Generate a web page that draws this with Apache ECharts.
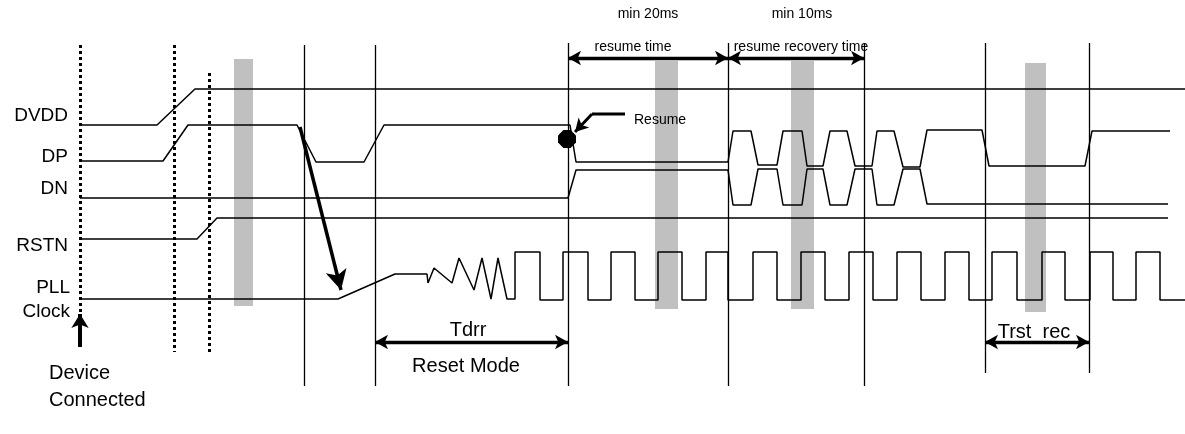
<!DOCTYPE html>
<html><head><meta charset="utf-8">
<script src="https://cdn.jsdelivr.net/npm/echarts@6/dist/echarts.min.js"></script>
<style>html,body{margin:0;padding:0;background:#fff}#c{width:1185px;height:434px}</style>
</head><body><div id="c"></div>
<script>
// ---- DATA (time on x, level on y, diagram units) ----
const dvdd = [[80,125],[157,125],[195,89],[1185,89]];
const dp = [[80,161],[163,161],[188,125],[297,125],[316,162],[364,162],[384,125],[570,125],[576,162],[728,162],
  [733,131],[751,131],[758,165],[777,165],[783,131],[802,131],[807,166],[823,166],[830,131],[847,131],[855,166],[872,166],
  [877,131],[894,131],[903,167],[920,167],[927,130],[982,130],[989,166],[1085,166],[1092,131],[1170,131]];
const dn = [[80,198],[568,198],[576,170],[728,170],
  [733,205],[751,205],[758,169],[777,169],[783,205],[802,205],[807,169],[823,169],[830,205],[847,205],[855,169],[872,169],
  [877,205],[894,205],[903,169],[920,169],[927,204],[1168,204]];
const rstn = [[80,239],[197,239],[217,218],[1168,218]];
const pllStart = [[80,299],[338,299],[395,274],[427,274],[428,283],[434,268],[452,283],[459,258],[474,290],[482,258],[491,299],[498,258],[507,299],[515,299]];
const clockRise = [515,563,611,658,706,753,801,849,897,945,992,1042,1090,1136];
const clockFall = [540,588,635,682,728,777,825,873,921,969,1017,1065,1113,1160];
const clockLevels = {high:252, low:300, end:1185};
const solidMarkers = [[304,45,386],[375,45,386],[568,43,386],[728,43,386],[864,43,386],[985,43,373],[1089,43,373]];
const dottedMarkers = [[80,45,313],[174,45,352],[209,73,352]];
const greyBands = [[655,61,678,309],[791,61,814,309],[1025,63,1046,312]];
const greyBandsTop = [[234,59,253,306]];
const doubleArrows = [[[568,58],[728,58]],[[728,58],[864,58]],[[375,342],[568,342]],[[985,342],[1089,342]]];
const resumeDot = [567,139];
const resumeLeader = [[625,114],[592,114]];
const resumeTip = [[592,114],[575,132]];
const bigArrow = [[300,127],[341,290]];
const deviceArrow = [[80,347],[80,314]];
const signalLabels = [['DVDD',68,116],['DP',68,157],['DN',68,189],['RSTN',68,246],['PLL',70,288],['Clock',70,312]];
const bigTexts = [['Tdrr',468,330],['Reset Mode',466,366],['Trst_rec',1034,332.5]];
const leftTexts = [['Device',49,373],['Connected',49,400]];
const smallTexts = [['min 20ms',648,14],['min 10ms',802,14],['resume time',633,47],['resume recovery time',801,47]];

// ---- build ----
const clock = pllStart.slice();
for (let i = 0; i < clockRise.length; i++) {
  clock.push([clockRise[i], clockLevels.low],[clockRise[i], clockLevels.high],[clockFall[i], clockLevels.high],[clockFall[i], clockLevels.low]);
}
clock.push([clockLevels.end, clockLevels.low]);

const FONT = 'Liberation Sans, Arial, sans-serif';
const black = '#000';
function wave(data, w, z) {
  return {type:'line', data, symbol:'none', clip:false, silent:true, animation:false, z:z||3,
    lineStyle:{color:black, width:w||1.5, opacity:1}};
}
function mlSeries(lines, opts) {
  return {type:'line', data:[], silent:true, animation:false, z:opts.z||3,
    markLine:{silent:true, animation:false, symbol:opts.symbol||['none','none'], symbolSize:opts.size||[10,12],
      label:{show:false}, emphasis:{disabled:true},
      lineStyle:{color:black, width:opts.width||1.2, type:opts.type||'solid', opacity:1},
      data: lines.map(l => [{coord:l[0]},{coord:l[1]}])}};
}
function bandSeries(bands, z) {
  return {type:'line', data:[], silent:true, animation:false, z,
    markArea:{silent:true, itemStyle:{color:'#c0c0c0', opacity:1},
      data: bands.map(b => [{coord:[b[0],b[1]]},{coord:[b[2],b[3]]}])}};
}
function textSeries(items, size, align) {
  return {type:'scatter', symbolSize:0, silent:true, animation:false, z:6,
    itemStyle:{opacity:1},
    data: items.map(t => ({value:[t[1],t[2]], name:t[0]})),
    label:{show:true, position:'inside', formatter:'{b}', color:black, opacity:1, fontSize:size, fontFamily:FONT,
      align:align, verticalAlign:'middle'}};
}

const series = [
  bandSeries(greyBands, 1),
  wave(dvdd), wave(dp), wave(dn), wave(rstn), wave(clock),
  mlSeries(solidMarkers.map(m => [[m[0],m[1]],[m[0],m[2]]]), {width:1.3}),
  mlSeries(dottedMarkers.map(m => [[m[0],m[1]],[m[0],m[2]]]), {width:3, type:'dotted'}),
  mlSeries(doubleArrows, {symbol:['arrow','arrow'], size:[11,13], width:3.4, z:7}),
  mlSeries([bigArrow], {symbol:['none','arrow'], size:[16,20], width:3.5}),
  mlSeries([deviceArrow], {symbol:['none','arrow'], size:[13,14], width:4}),
  wave(resumeLeader, 3),
  mlSeries([resumeTip], {symbol:['none','arrow'], size:[11,13], width:3}),
  {type:'scatter', data:[resumeDot], symbol:'path://M3,0 L7,0 L10,3 L10,7 L7,10 L3,10 L0,7 L0,3 Z', symbolSize:18,
    itemStyle:{color:black, opacity:1}, silent:true, animation:false, z:5},
  bandSeries(greyBandsTop, 8),
  textSeries(signalLabels, 19, 'right'),
  textSeries(bigTexts, 20, 'center'),
  textSeries(leftTexts, 20, 'left'),
  textSeries(smallTexts, 14, 'center'),
  textSeries([['Resume',634,120]], 14, 'left')
];

const chart = echarts.init(document.getElementById('c'), null, {renderer:'canvas'});
chart.setOption({
  animation:false,
  backgroundColor:'#fff',
  grid:{left:0,right:0,top:0,bottom:0},
  xAxis:{type:'value', min:0, max:1185, show:false},
  yAxis:{type:'value', min:0, max:434, inverse:true, show:false},
  series
});
</script></body></html>
